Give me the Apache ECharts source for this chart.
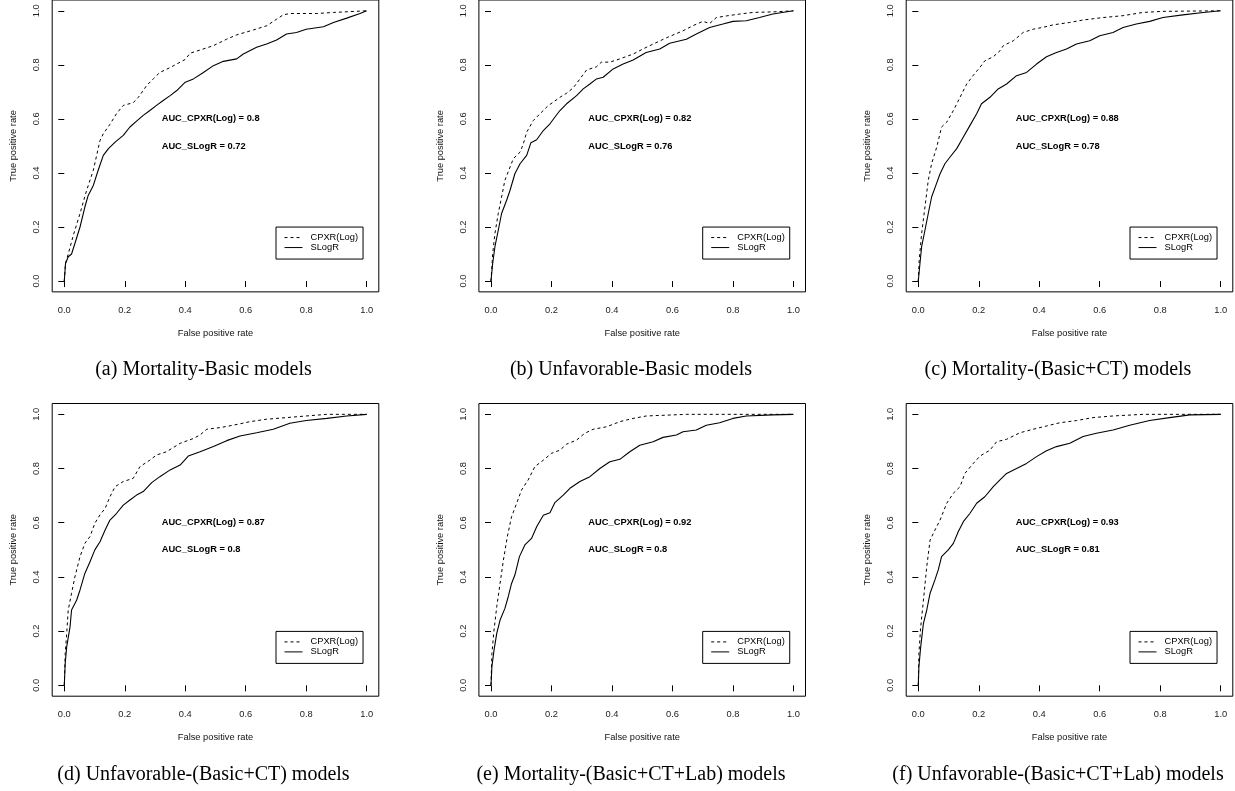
<!DOCTYPE html>
<html>
<head>
<meta charset="utf-8">
<title>ROC curves</title>
<script src="https://cdn.jsdelivr.net/npm/echarts@6/dist/echarts.min.js"></script>
<style>
html, body { margin: 0; padding: 0; background: #fff; }
#chart { width: 1235px; height: 791px; }
</style>
</head>
<body>
<div id="chart"></div>
<script>
// ROC points as [false positive rate, true positive rate]
const cpxrA = [[0,0],[0.004,0.065],[0.013,0.10],[0.03,0.17],[0.052,0.25],[0.074,0.336],[0.096,0.41],[0.118,0.52],[0.129,0.545],[0.151,0.58],[0.173,0.62],[0.195,0.65],[0.228,0.66],[0.245,0.68],[0.272,0.723],[0.294,0.748],[0.316,0.772],[0.35,0.79],[0.383,0.81],[0.4,0.82],[0.416,0.843],[0.449,0.855],[0.493,0.871],[0.537,0.895],[0.57,0.911],[0.625,0.929],[0.67,0.945],[0.702,0.969],[0.724,0.985],[0.746,0.99],[0.835,0.99],[0.89,0.994],[1,1]];
const slogrA = [[0,0],[0.004,0.065],[0.013,0.09],[0.024,0.10],[0.035,0.139],[0.052,0.20],[0.068,0.274],[0.079,0.317],[0.096,0.354],[0.112,0.41],[0.129,0.465],[0.146,0.49],[0.168,0.514],[0.195,0.539],[0.217,0.57],[0.239,0.592],[0.261,0.613],[0.283,0.631],[0.305,0.65],[0.327,0.668],[0.35,0.686],[0.372,0.705],[0.4,0.736],[0.427,0.748],[0.46,0.772],[0.493,0.797],[0.526,0.813],[0.57,0.822],[0.592,0.84],[0.636,0.865],[0.669,0.877],[0.702,0.892],[0.735,0.914],[0.768,0.92],[0.8,0.932],[0.857,0.941],[0.89,0.957],[0.934,0.973],[0.978,0.99],[1,1]];

const cpxrB = [[0,0],[0.0055,0.10],[0.013,0.176],[0.024,0.25],[0.035,0.311],[0.046,0.373],[0.063,0.422],[0.074,0.453],[0.096,0.477],[0.107,0.508],[0.118,0.551],[0.14,0.594],[0.162,0.619],[0.189,0.649],[0.206,0.662],[0.228,0.68],[0.25,0.695],[0.272,0.715],[0.294,0.748],[0.316,0.781],[0.349,0.793],[0.365,0.81],[0.393,0.81],[0.426,0.822],[0.47,0.84],[0.503,0.859],[0.536,0.877],[0.58,0.90],[0.635,0.926],[0.668,0.945],[0.701,0.961],[0.723,0.953],[0.745,0.975],[0.778,0.981],[0.822,0.988],[0.866,0.994],[0.932,0.996],[1,1]];
const slogrB = [[0,0],[0.0055,0.065],[0.013,0.127],[0.024,0.188],[0.035,0.25],[0.052,0.30],[0.063,0.336],[0.079,0.397],[0.096,0.434],[0.118,0.465],[0.132,0.512],[0.151,0.523],[0.173,0.557],[0.195,0.582],[0.211,0.606],[0.228,0.631],[0.25,0.656],[0.283,0.686],[0.305,0.711],[0.327,0.729],[0.349,0.748],[0.371,0.754],[0.404,0.785],[0.437,0.803],[0.47,0.818],[0.513,0.846],[0.558,0.859],[0.591,0.88],[0.646,0.895],[0.679,0.914],[0.723,0.938],[0.767,0.951],[0.80,0.961],[0.844,0.963],[0.888,0.975],[0.932,0.988],[1,1]];

const cpxrC = [[0,0],[0.003,0.077],[0.011,0.176],[0.022,0.274],[0.033,0.373],[0.044,0.434],[0.061,0.496],[0.077,0.57],[0.094,0.588],[0.116,0.631],[0.138,0.68],[0.16,0.729],[0.181,0.76],[0.204,0.791],[0.22,0.815],[0.248,0.83],[0.27,0.852],[0.281,0.871],[0.314,0.889],[0.347,0.92],[0.38,0.932],[0.413,0.939],[0.446,0.948],[0.501,0.957],[0.545,0.966],[0.611,0.975],[0.677,0.982],[0.743,0.994],[0.809,0.998],[1,1]];
const slogrC = [[0,0],[0.0055,0.065],[0.011,0.127],[0.022,0.188],[0.033,0.25],[0.044,0.311],[0.058,0.354],[0.072,0.397],[0.088,0.434],[0.105,0.459],[0.127,0.49],[0.149,0.533],[0.171,0.576],[0.193,0.619],[0.209,0.656],[0.237,0.68],[0.264,0.711],[0.292,0.729],[0.325,0.76],[0.358,0.772],[0.391,0.803],[0.424,0.83],[0.457,0.846],[0.49,0.859],[0.523,0.877],[0.567,0.889],[0.6,0.908],[0.644,0.92],[0.677,0.938],[0.721,0.951],[0.765,0.961],[0.809,0.975],[0.875,0.985],[0.942,0.994],[1,1]];

const cpxrD = [[0,0],[0.003,0.118],[0.008,0.192],[0.013,0.278],[0.024,0.34],[0.035,0.40],[0.052,0.475],[0.068,0.524],[0.085,0.549],[0.101,0.598],[0.118,0.629],[0.135,0.653],[0.151,0.696],[0.168,0.733],[0.195,0.752],[0.228,0.764],[0.25,0.807],[0.283,0.831],[0.305,0.85],[0.338,0.862],[0.383,0.893],[0.427,0.911],[0.449,0.924],[0.471,0.945],[0.515,0.951],[0.559,0.96],[0.614,0.973],[0.669,0.982],[0.735,0.988],[0.80,0.994],[0.868,1],[1,1]];
const slogrD = [[0,0],[0.003,0.081],[0.008,0.143],[0.019,0.216],[0.024,0.278],[0.041,0.315],[0.052,0.352],[0.068,0.413],[0.085,0.456],[0.101,0.50],[0.118,0.53],[0.135,0.573],[0.151,0.61],[0.173,0.635],[0.195,0.665],[0.217,0.684],[0.239,0.702],[0.261,0.715],[0.289,0.748],[0.316,0.77],[0.35,0.795],[0.383,0.813],[0.41,0.846],[0.449,0.862],[0.493,0.881],[0.537,0.903],[0.581,0.92],[0.636,0.932],[0.691,0.945],[0.746,0.967],[0.80,0.977],[0.868,0.985],[0.934,0.994],[1,1]];

const cpxrE = [[0,0],[0.003,0.118],[0.01,0.204],[0.019,0.29],[0.03,0.376],[0.041,0.462],[0.054,0.549],[0.068,0.622],[0.085,0.672],[0.101,0.721],[0.123,0.758],[0.145,0.807],[0.173,0.831],[0.2,0.856],[0.228,0.868],[0.25,0.89],[0.283,0.905],[0.31,0.93],[0.338,0.945],[0.382,0.954],[0.426,0.973],[0.47,0.985],[0.514,0.994],[0.602,0.998],[0.646,1],[1,1]];
const slogrE = [[0,0],[0.003,0.069],[0.01,0.13],[0.019,0.192],[0.03,0.241],[0.046,0.284],[0.057,0.327],[0.068,0.376],[0.079,0.407],[0.094,0.475],[0.112,0.518],[0.134,0.542],[0.151,0.585],[0.173,0.628],[0.195,0.637],[0.211,0.674],[0.239,0.702],[0.261,0.727],[0.294,0.752],[0.327,0.77],[0.36,0.80],[0.393,0.825],[0.426,0.834],[0.459,0.862],[0.492,0.886],[0.536,0.899],[0.569,0.915],[0.613,0.924],[0.635,0.936],[0.679,0.942],[0.712,0.96],[0.756,0.969],[0.80,0.985],[0.844,0.994],[0.932,0.998],[1,1]];

const cpxrF = [[0,0],[0.002,0.118],[0.008,0.216],[0.017,0.315],[0.028,0.438],[0.039,0.536],[0.055,0.573],[0.072,0.61],[0.094,0.672],[0.116,0.709],[0.138,0.733],[0.154,0.782],[0.182,0.819],[0.204,0.846],[0.237,0.868],[0.259,0.899],[0.292,0.908],[0.336,0.932],[0.38,0.945],[0.424,0.957],[0.468,0.969],[0.523,0.977],[0.578,0.988],[0.644,0.994],[0.743,1],[1,1]];
const slogrF = [[0,0],[0.002,0.069],[0.008,0.143],[0.017,0.229],[0.028,0.278],[0.039,0.34],[0.055,0.389],[0.066,0.426],[0.077,0.475],[0.099,0.50],[0.116,0.524],[0.132,0.567],[0.149,0.604],[0.171,0.635],[0.193,0.672],[0.22,0.696],[0.248,0.733],[0.27,0.758],[0.292,0.782],[0.325,0.80],[0.358,0.819],[0.391,0.844],[0.424,0.866],[0.457,0.881],[0.501,0.893],[0.545,0.918],[0.589,0.93],[0.644,0.942],[0.699,0.96],[0.765,0.977],[0.831,0.988],[0.898,0.998],[1,1]];

const aucCpxr = ['0.8', '0.82', '0.88', '0.87', '0.92', '0.93'];
const aucSlogr = ['0.72', '0.76', '0.78', '0.8', '0.8', '0.81'];
const captions = [
    '(a) Mortality-Basic models',
    '(b) Unfavorable-Basic models',
    '(c) Mortality-(Basic+CT) models',
    '(d) Unfavorable-(Basic+CT) models',
    '(e) Mortality-(Basic+CT+Lab) models',
    '(f) Unfavorable-(Basic+CT+Lab) models'
];
const tickValues = [0, 0.2, 0.4, 0.6, 0.8, 1.0];

const cpxrSets = [cpxrA, cpxrB, cpxrC, cpxrD, cpxrE, cpxrF];
const slogrSets = [slogrA, slogrB, slogrC, slogrD, slogrE, slogrF];

// panel geometry (R-style plot box, 4% padding around 0..1)
const frameLeft = [52.2, 478.9, 906.2];
const frameTop = [-0.84, 403.5];
const frameW = 326.6;
const frameH = 292.7;
const captionX = [203.5, 631, 1058];
const captionTop = [360, 764.5];

const sans = 'Liberation Sans';
const fs = 9.3;

const chart = echarts.init(document.getElementById('chart'));

const grid = [], xAxis = [], yAxis = [], series = [], legend = [], title = [];

for (let i = 0; i < 6; i++) {
    const col = i % 3, row = Math.floor(i / 3);
    const left = frameLeft[col], top = frameTop[row];

    grid.push({
        left: left, top: top, width: frameW, height: frameH,
        show: true, borderColor: '#000', borderWidth: 1, backgroundColor: 'transparent'
    });
    xAxis.push({
        type: 'value', gridIndex: i, min: -0.04, max: 1.04,
        name: 'False positive rate', nameLocation: 'middle', nameGap: 37,
        nameTextStyle: { fontFamily: sans, fontSize: fs, color: '#111' },
        axisLine: { show: false },
        axisTick: { show: true, length: 6, customValues: tickValues, lineStyle: { color: '#000' } },
        axisLabel: {
            customValues: tickValues, margin: 14, fontFamily: sans, fontSize: fs, color: '#222',
            formatter: v => v.toFixed(1)
        },
        splitLine: { show: false }
    });
    yAxis.push({
        type: 'value', gridIndex: i, min: -0.04, max: 1.04,
        name: 'True positive rate', nameLocation: 'middle', nameGap: 34,
        nameTextStyle: { fontFamily: sans, fontSize: fs, color: '#111' },
        axisLine: { show: false },
        axisTick: { show: true, length: 6, customValues: tickValues, lineStyle: { color: '#000' } },
        axisLabel: {
            customValues: tickValues, margin: 11, rotate: 90, fontFamily: sans, fontSize: fs, color: '#222',
            formatter: v => v.toFixed(1)
        },
        splitLine: { show: false }
    });
    series.push({
        name: 'CPXR(Log)', type: 'line', xAxisIndex: i, yAxisIndex: i,
        data: cpxrSets[i], symbol: 'none', silent: true,
        itemStyle: { color: '#000' },
        lineStyle: { color: '#000', width: 1, type: [3, 3] },
        markPoint: {
            symbol: 'circle', symbolSize: 0, silent: true,
            label: {
                show: true, position: 'right', distance: 0, formatter: '{b}',
                fontFamily: sans, fontSize: fs, fontWeight: 'bold', color: '#000'
            },
            data: [
                { name: 'AUC_CPXR(Log) = ' + aucCpxr[i], coord: [0.322, 0.6] },
                { name: 'AUC_SLogR = ' + aucSlogr[i], coord: [0.322, 0.5] }
            ]
        }
    });
    series.push({
        name: 'SLogR', type: 'line', xAxisIndex: i, yAxisIndex: i,
        data: slogrSets[i], symbol: 'none', silent: true,
        itemStyle: { color: '#000' },
        lineStyle: { color: '#000', width: 1.1, type: 'solid' }
    });
    legend.push({
        data: ['CPXR(Log)', 'SLogR'],
        orient: 'vertical', selectedMode: false,
        left: left + 223.8, top: top + 227.9,
        padding: [6, 5, 7, 8], itemWidth: 18, itemHeight: 10, itemGap: 1,
        borderColor: '#000', borderWidth: 1,
        itemStyle: { opacity: 0 },
        lineStyle: { width: 1 },
        textStyle: { fontFamily: sans, fontSize: fs, color: '#000', padding: [0, 0, 0, 3] }
    });
    title.push({
        text: captions[i], left: captionX[col], top: captionTop[row], textAlign: 'center', padding: 0,
        textStyle: { fontFamily: 'Liberation Serif', fontSize: 20, fontWeight: 'normal', color: '#000' }
    });
}

chart.setOption({
    animation: false,
    title: title,
    legend: legend,
    grid: grid,
    xAxis: xAxis,
    yAxis: yAxis,
    series: series
});
</script>
</body>
</html>
